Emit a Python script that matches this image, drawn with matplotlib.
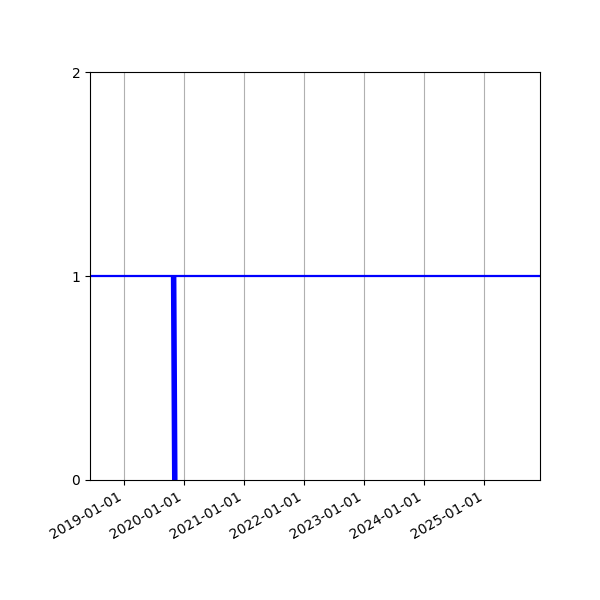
import matplotlib
matplotlib.use("Agg")
import matplotlib.pyplot as plt
import matplotlib.dates as mdates
from datetime import datetime

# data
drop_dates = [datetime(2019, 10, 29), datetime(2019, 11, 5)]
drop_values = [1, 0]
level_value = 1
xlim_dates = [datetime(2018, 6, 7), datetime(2025, 12, 6)]
tick_dates = [datetime(y, 1, 1) for y in range(2019, 2026)]
y_ticks = [0, 1, 2]

fig, ax = plt.subplots(figsize=(6, 6), dpi=100)
fig.subplots_adjust(left=0.15, right=0.9, top=0.88, bottom=0.2)

ax.plot(drop_dates, drop_values, color="blue", lw=4, solid_capstyle="butt")
ax.axhline(level_value, color="blue", lw=1.6)

ax.set_xlim(xlim_dates)
ax.set_ylim(0, 2)
ax.set_yticks(y_ticks)
ax.set_xticks(tick_dates)
ax.xaxis.set_major_formatter(mdates.DateFormatter("%Y-%m-%d"))
ax.grid(True, axis="x")
for lbl in ax.get_xticklabels():
    lbl.set_rotation(30)
    lbl.set_ha("right")

fig.savefig("out.png", dpi=100)
